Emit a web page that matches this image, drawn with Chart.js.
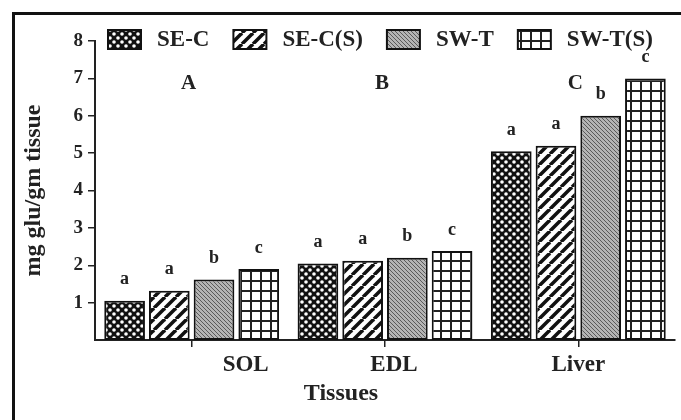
<!DOCTYPE html>
<html>
<head>
<meta charset="utf-8">
<script src="https://cdn.jsdelivr.net/npm/chart.js@4"></script>
<style>
html, body { margin: 0; padding: 0; background: #fff; overflow: hidden; }
#frame { position: absolute; left: 12px; top: 12px; width: 720px; height: 460px; border: 3px solid #111; }
#c { position: absolute; left: 0; top: 0; }
</style>
</head>
<body>
<div id="frame"></div>
<canvas id="c" width="681" height="420"></canvas>
<script>
const tissues = ['SOL', 'EDL', 'Liver'];
const seriesNames = ['SE-C', 'SE-C(S)', 'SW-T', 'SW-T(S)'];
const seC = [1.05, 2.05, 5.05];
const seCS = [1.32, 2.12, 5.2];
const swT = [1.62, 2.2, 6.0];
const swTS = [1.9, 2.38, 7.0];
const sigLetters = [['a', 'a', 'a'], ['a', 'a', 'a'], ['b', 'b', 'b'], ['c', 'c', 'c']];
const groupLetters = ['A', 'B', 'C'];
const yTicks = [1, 2, 3, 4, 5, 6, 7, 8];

const serif = "'Liberation Serif', 'Times New Roman', serif";
// the category names sit a little right of their ticks in the original
const labelShift = [54, 9, 0];

function makePattern(w, h, draw) {
    let cv = document.createElement('canvas');
    cv.width = w;
    cv.height = h;
    let g = cv.getContext('2d');
    draw(g, w, h);
    return g.createPattern(cv, 'repeat');
}

// SE-C: black with white dots
let dots = makePattern(8, 8, (g) => {
    g.fillStyle = '#111';
    g.fillRect(0, 0, 8, 8);
    g.fillStyle = '#fff';
    g.beginPath(); g.arc(2, 2, 1.8, 0, Math.PI * 2); g.fill();
    g.beginPath(); g.arc(6, 6, 1.8, 0, Math.PI * 2); g.fill();
});
// SE-C(S): diagonal stripes
let stripes = makePattern(11, 11, (g) => {
    g.fillStyle = '#fff';
    g.fillRect(0, 0, 11, 11);
    g.strokeStyle = '#111';
    g.lineWidth = 3.5;
    [-11, 0, 11].forEach(o => {
        g.beginPath(); g.moveTo(o, 11); g.lineTo(o + 11, 0); g.stroke();
    });
});
// SW-T: fine grey hatch
let grey = makePattern(4, 4, (g) => {
    g.fillStyle = '#b4b4b4';
    g.fillRect(0, 0, 4, 4);
    g.fillStyle = '#5a5a5a';
    for (let i = 0; i < 4; i++) g.fillRect(i, i, 1, 1);
});
// SW-T(S): grid
let grid = makePattern(10, 10, (g) => {
    g.fillStyle = '#fff';
    g.fillRect(0, 0, 10, 10);
    g.fillStyle = '#222';
    g.fillRect(0, 0, 10, 2);
    g.fillRect(0, 0, 2, 10);
});

const fills = [dots, stripes, grey, grid];

const lettersPlugin = {
    id: 'letters',
    afterDatasetsDraw(chart) {
        let ctx = chart.ctx;
        let xs = chart.scales.x, ys = chart.scales.y;
        ctx.save();
        ctx.fillStyle = '#222';
        ctx.textAlign = 'center';
        ctx.textBaseline = 'bottom';
        ctx.font = 'bold 18px ' + serif;
        chart.data.datasets.forEach((ds, i) => {
            chart.getDatasetMeta(i).data.forEach((bar, j) => {
                ctx.fillText(sigLetters[i][j], bar.x, bar.y - 12);
            });
        });

        ctx.font = 'bold 21px ' + serif;
        ctx.textBaseline = 'middle';
        groupLetters.forEach((t, j) => {
            ctx.fillText(t, xs.getPixelForValue(j) - 3, ys.getPixelForValue(6.85));
        });

        // category names and axis title
        ctx.font = 'bold 23px ' + serif;
        tissues.forEach((t, j) => {
            ctx.fillText(t, xs.getPixelForValue(j) + labelShift[j], xs.top + 25);
        });
        ctx.font = 'bold 24px ' + serif;
        ctx.fillText('Tissues', (xs.left + xs.right) / 2 - 44, xs.top + 54);

        // legend across the top of the plot
        let x = 108;
        ctx.font = 'bold 23px ' + serif;
        ctx.textAlign = 'left';
        chart.data.datasets.forEach((ds) => {
            ctx.fillStyle = ds.backgroundColor;
            ctx.fillRect(x, 30, 33, 19);
            ctx.lineWidth = 2;
            ctx.strokeStyle = '#111';
            ctx.strokeRect(x, 30, 33, 19);
            ctx.fillStyle = '#222';
            ctx.fillText(ds.label, x + 49, 40);
            x += 49 + ctx.measureText(ds.label).width + 24;
        });
        ctx.restore();
    }
};

let ctx = document.getElementById('c').getContext('2d');
let chart = new Chart(ctx, {
    type: 'bar',
    data: {
        labels: tissues,
        datasets: [seC, seCS, swT, swTS].map((d, i) => ({
            label: seriesNames[i],
            data: d,
            backgroundColor: fills[i],
            borderColor: '#111',
            borderWidth: 2,
            borderSkipped: false,
            categoryPercentage: 0.925,
            barPercentage: 0.91
        }))
    },
    options: {
        responsive: false,
        animation: false,
        layout: { padding: { top: 41, right: 6, left: 0, bottom: 0 } },
        plugins: {
            legend: { display: false },
            tooltip: { enabled: false }
        },
        scales: {
            x: {
                afterFit: (s) => { s.height = 80; },
                grid: { drawOnChartArea: false, offset: false, tickLength: 7, color: '#222', lineWidth: 1.5 },
                border: { color: '#222', width: 2 },
                ticks: { display: false }
            },
            y: {
                min: 0,
                max: 8,
                afterFit: (s) => { s.width = 95; },
                afterBuildTicks: (s) => { s.ticks = yTicks.map(v => ({ value: v })); },
                grid: { drawOnChartArea: false, tickLength: 7, color: '#222', lineWidth: 1.5 },
                border: { color: '#222', width: 2 },
                ticks: { color: '#222', padding: 5, font: { family: serif, size: 19, weight: 'bold' } },
                title: { display: true, text: 'mg glu/gm tissue', color: '#222', padding: { top: 19, bottom: 0 }, font: { family: serif, size: 24, weight: 'bold' } }
            }
        }
    },
    plugins: [lettersPlugin]
});
</script>
</body>
</html>
